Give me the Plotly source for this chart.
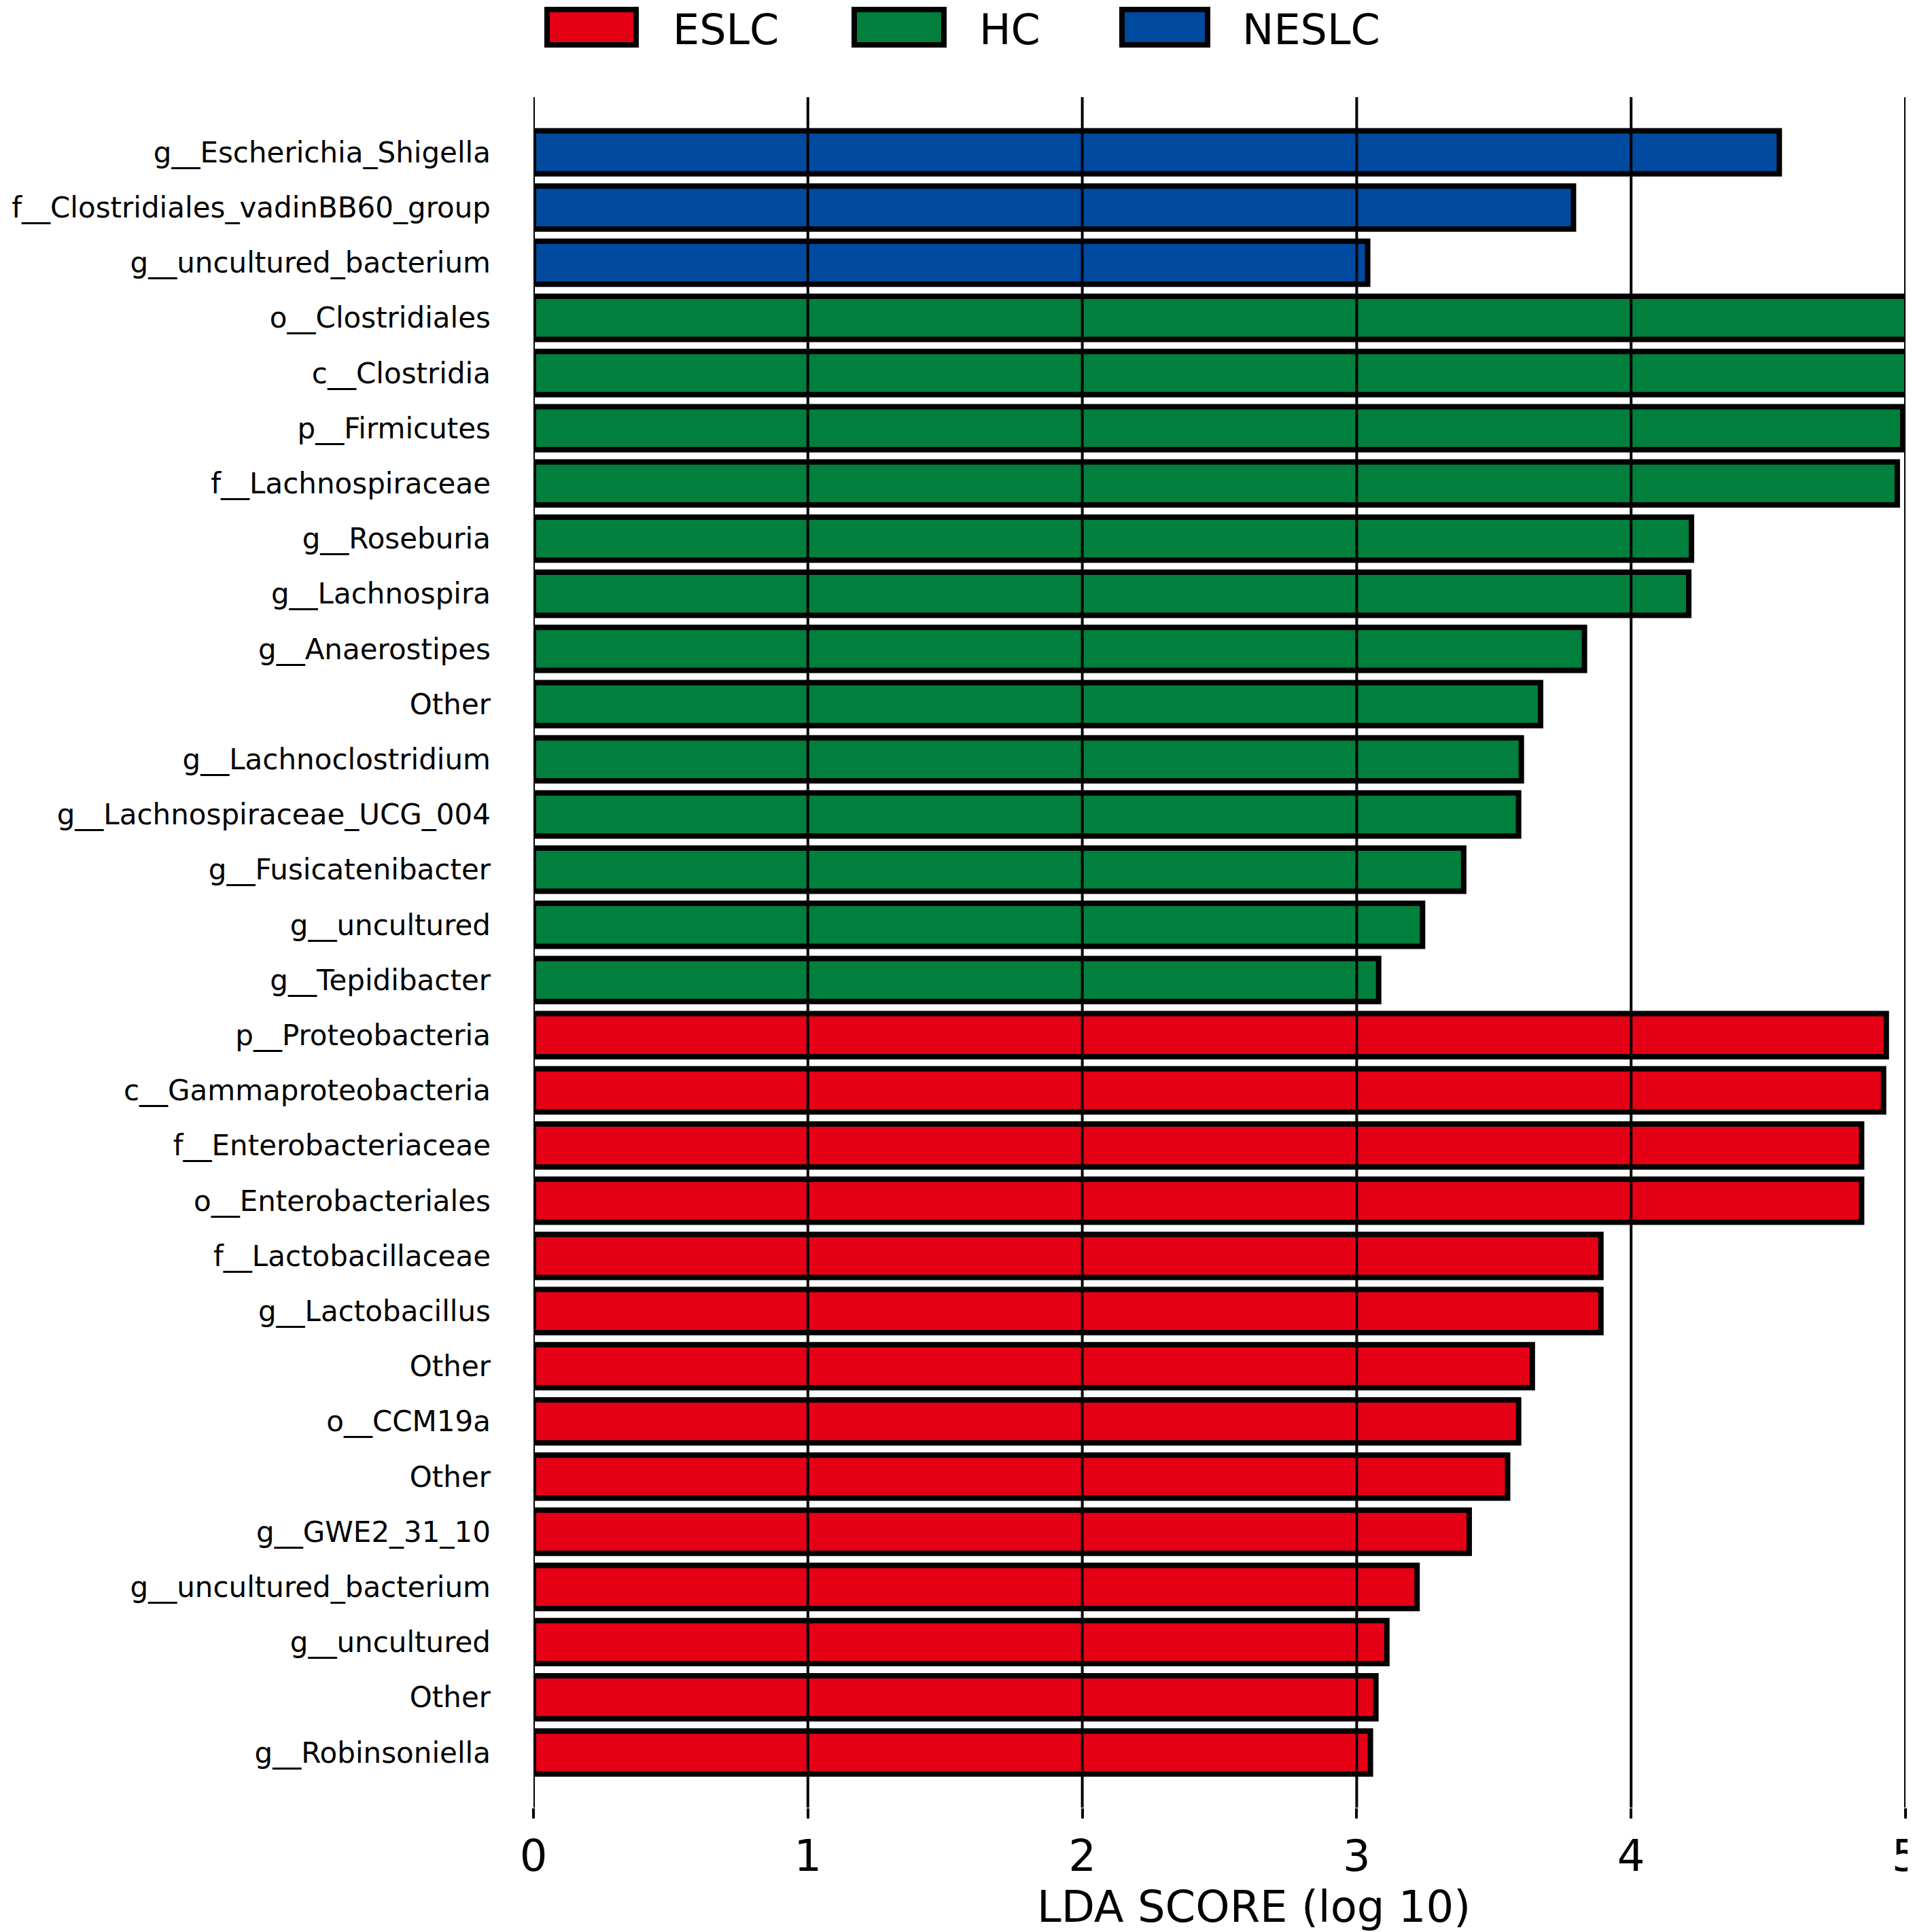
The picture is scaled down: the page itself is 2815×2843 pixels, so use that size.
import plotly.graph_objects as go

#%% Data (top to bottom, as in the figure)
features = [
    "g__Escherichia_Shigella", "f__Clostridiales_vadinBB60_group", "g__uncultured_bacterium",
    "o__Clostridiales", "c__Clostridia", "p__Firmicutes", "f__Lachnospiraceae",
    "g__Roseburia", "g__Lachnospira", "g__Anaerostipes", "Other",
    "g__Lachnoclostridium", "g__Lachnospiraceae_UCG_004", "g__Fusicatenibacter",
    "g__uncultured", "g__Tepidibacter",
    "p__Proteobacteria", "c__Gammaproteobacteria", "f__Enterobacteriaceae",
    "o__Enterobacteriales", "f__Lactobacillaceae", "g__Lactobacillus", "Other",
    "o__CCM19a", "Other", "g__GWE2_31_10", "g__uncultured_bacterium",
    "g__uncultured", "Other", "g__Robinsoniella",
]
lda_scores = [
    4.54, 3.79, 3.04,
    5.01, 5.01, 4.99, 4.97, 4.22, 4.21, 3.83, 3.67, 3.60, 3.59, 3.39, 3.24, 3.08,
    4.93, 4.92, 4.84, 4.84, 3.89, 3.89, 3.64, 3.59, 3.55, 3.41, 3.22, 3.11, 3.07, 3.05,
]
groups = ["NESLC"] * 3 + ["HC"] * 13 + ["ESLC"] * 14

legend_order = ["ESLC", "HC", "NESLC"]
group_colors = {"ESLC": "#E60016", "HC": "#007F3D", "NESLC": "#004A9F"}
x_ticks = [0, 1, 2, 3, 4, 5]

#%% Figure geometry (pixels)
W, H = 2815, 2843
L, R, T, B = 777, 19, 135, 191
FONT = "DejaVu Sans"


def px_x(x):
    return (x - L) / (W - L - R)


def px_y(y):
    return (H - B - y) / (H - T - B)


fig = go.Figure()

positions = list(range(len(features)))
for g in legend_order:
    idx = [i for i, gg in enumerate(groups) if gg == g]
    fig.add_trace(go.Bar(
        x=[lda_scores[i] for i in idx],
        y=[positions[i] for i in idx],
        orientation="h",
        width=0.78,
        marker=dict(color=group_colors[g], line=dict(color="black", width=8)),
        name=g,
        showlegend=False,
    ))

# vertical grid lines drawn on top of the bars
for t in x_ticks:
    fig.add_shape(type="line", xref="x", yref="paper", x0=t, x1=t, y0=0, y1=1,
                  line=dict(color="black", width=4), layer="above")

# legend boxes + labels along the top
legend_px = [(797, 928, 980), (1249, 1381, 1431), (1643, 1769, 1818)]
for g, (bx0, bx1, tx) in zip(legend_order, legend_px):
    fig.add_shape(type="rect", xref="paper", yref="paper",
                  x0=px_x(bx0), x1=px_x(bx1), y0=px_y(58), y1=px_y(6),
                  fillcolor=group_colors[g], line=dict(color="black", width=8))
    fig.add_annotation(text=g, xref="paper", yref="paper", x=px_x(tx), y=px_y(36),
                       xanchor="left", yanchor="middle", showarrow=False,
                       font=dict(family=FONT, size=62, color="black"))

fig.add_annotation(text="LDA SCORE (log 10)", xref="paper", yref="paper",
                   x=px_x(1837), y=px_y(2798), xanchor="center", yanchor="middle",
                   showarrow=False, font=dict(family=FONT, size=64, color="black"))

fig.update_layout(
    width=W, height=H,
    margin=dict(l=L, r=R, t=T, b=B, autoexpand=False),
    paper_bgcolor="white", plot_bgcolor="white",
    barmode="overlay",
    font=dict(family=FONT, color="black"),
)
fig.update_xaxes(range=[0, 5], tickvals=x_ticks, showgrid=False, zeroline=False,
                 ticks="outside", ticklen=15, tickwidth=4, tickcolor="black",
                 ticklabeloverflow="allow", automargin=False,
                 tickfont=dict(family=FONT, size=64, color="black"),
                 showline=False)
fig.update_yaxes(range=[len(features), -1], tickvals=positions, ticktext=features,
                 showgrid=False, zeroline=False, showline=False, ticks="",
                 ticklabelstandoff=62, automargin=False,
                 tickfont=dict(family=FONT, size=42, color="black"))

fig.write_html("out.html")
